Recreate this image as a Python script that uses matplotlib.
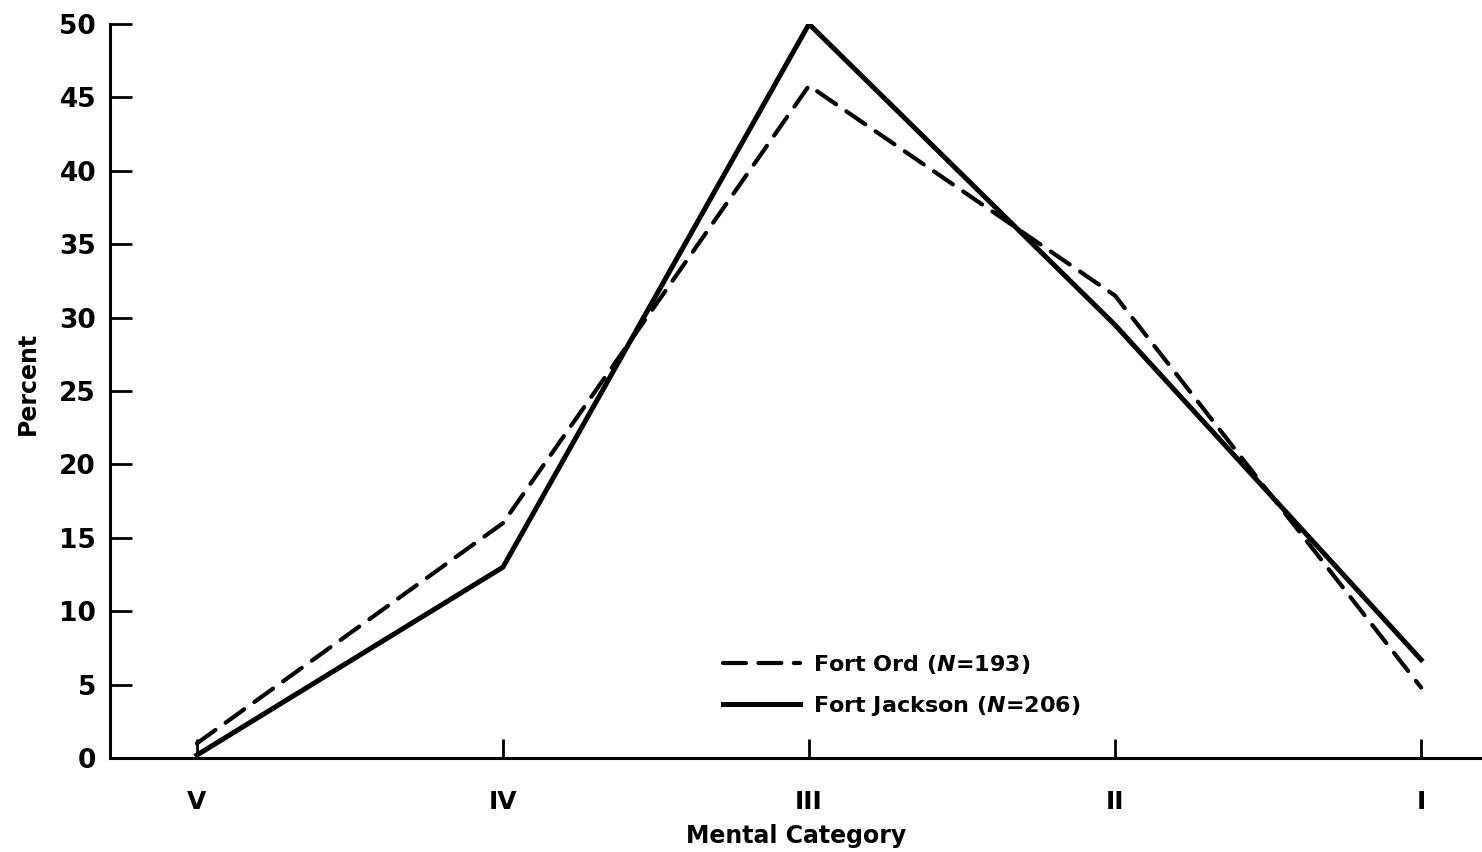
import matplotlib
matplotlib.use("Agg")
import matplotlib.pyplot as plt

# percent of each sample in the Army mental categories
categories = ["V", "IV", "III", "II", "I"]
fort_ord = [1.0, 16.0, 45.8, 31.5, 4.8]
fort_jackson = [0.2, 13.0, 50.0, 29.5, 6.7]
yticks = [0, 5, 10, 15, 20, 25, 30, 35, 40, 45, 50]

plt.rcParams['font.family'] = ['DejaVu Sans']
plt.rcParams['font.weight'] = 'bold'
plt.rcParams['mathtext.fontset'] = 'custom'
plt.rcParams['mathtext.it'] = 'DejaVu Sans:italic:bold'

fig = plt.figure(figsize=(14.82, 8.52), dpi=100)
ax = fig.add_axes([0.0742, 0.1103, 0.9258, 0.8615])

x = list(range(len(categories)))
ax.plot(x, fort_ord, color='black', lw=3.0, dashes=(5.5, 3.0),
        solid_joinstyle='round', dash_capstyle='round',
        label='Fort Ord ($\\mathit{N}$=193)')
ax.plot(x, fort_jackson, color='black', lw=3.6, solid_joinstyle='round',
        label='Fort Jackson ($\\mathit{N}$=206)')

ax.set_xlim(-0.284, 4.199)
ax.set_ylim(0, 50)
ax.set_xticks(x)
ax.set_xticklabels(categories)
ax.set_yticks(yticks)

for s in ['top', 'right']:
    ax.spines[s].set_visible(False)
ax.spines['left'].set_linewidth(2.2)
ax.spines['bottom'].set_linewidth(2.2)

ax.tick_params(axis='y', direction='in', length=16, width=2, pad=10,
               labelsize=19)
ax.tick_params(axis='x', direction='in', length=14, width=2, pad=23,
               labelsize=18)

ax.set_xlabel('Mental Category', fontsize=17, fontweight='bold', labelpad=7)
ax.set_ylabel('Percent', fontsize=17, fontweight='bold')
ax.yaxis.set_label_coords(-0.051, 0.51)

ax.legend(loc='upper left', bbox_to_anchor=(0.432, 0.17), frameon=False,
          fontsize=16, handlelength=3.5, handletextpad=0.55, labelspacing=0.8)

fig.savefig('out.png', dpi=100)
